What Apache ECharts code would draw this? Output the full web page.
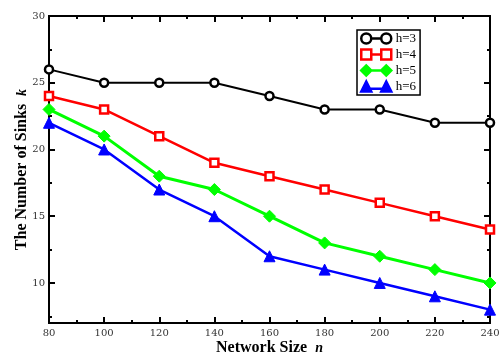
<!DOCTYPE html>
<html><head><meta charset="utf-8">
<script src="https://cdn.jsdelivr.net/npm/echarts@6/dist/echarts.min.js"></script>
<style>html,body{margin:0;padding:0;background:#fff}#c{width:500px;height:354px}</style>
</head><body><div id="c"></div>
<script>
const networkSize = [80, 100, 120, 140, 160, 180, 200, 220, 240];
const h3 = [26, 25, 25, 25, 24, 23, 23, 22, 22];
const h4 = [24, 23, 21, 19, 18, 17, 16, 15, 14];
const h5 = [23, 21, 18, 17, 15, 13, 12, 11, 10];
const h6 = [22, 20, 17, 15, 12, 11, 10, 9, 8];
const yMajor = [10, 15, 20, 25, 30];
const yMinor = [7.5, 12.5, 17.5, 22.5, 27.5];
const seriesNames = ['h=3', 'h=4', 'h=5', 'h=6'];

const font = '"Liberation Serif", "DejaVu Serif", serif';
const tickFont = '"DejaVu Serif", serif';
const pair = arr => networkSize.map((x, i) => [x, arr[i]]);

const icons = [
  'path://M0,5.5A5.5,5.5 0 1 1 11,5.5A5.5,5.5 0 1 1 0,5.5ZM11,5.5L22,5.5M22,5.5A5.5,5.5 0 1 1 33,5.5A5.5,5.5 0 1 1 22,5.5Z',
  'path://M0,0L11,0L11,11L0,11ZM11,5.5L22,5.5M22,0L33,0L33,11L22,11Z',
  'path://M0,5.5L5.5,0L11,5.5L5.5,11ZM11,5.5L22,5.5M22,5.5L27.5,0L33,5.5L27.5,11Z',
  'path://M0,11L5.5,0L11,11ZM8,8L25,8M22,11L27.5,0L33,11Z'
];

const chart = echarts.init(document.getElementById('c'));
const axisLine = {show: true, lineStyle: {color: '#000', width: 2}};
function yAx(opts) {
  return Object.assign({
    type: 'value', min: 7, max: 30,
    axisLine: axisLine, splitLine: {show: false},
    axisLabel: {show: false}
  }, opts);
}
chart.setOption({
  animation: false,
  grid: {left: 49, right: 10, top: 16, bottom: 31, containLabel: false, outerBoundsMode: 'none'},
  legend: {
    left: 357, top: 30, orient: 'vertical', itemGap: 3,
    itemWidth: 31, itemHeight: 10,
    padding: [2, 4, 2, 3],
    borderColor: '#000', borderWidth: 1.5, borderRadius: 0,
    textStyle: {fontFamily: font, fontSize: 13, lineHeight: 13, color: '#000', padding: [0, 0, 0, -1]},
    data: [
      {name: seriesNames[0], icon: icons[0], itemStyle: {color: '#fff', borderColor: '#000', borderWidth: 2.5}},
      {name: seriesNames[1], icon: icons[1], itemStyle: {color: '#fff', borderColor: '#ff0000', borderWidth: 2.5}},
      {name: seriesNames[2], icon: icons[2], itemStyle: {color: '#00ff00', borderColor: '#00ff00', borderWidth: 2.5}},
      {name: seriesNames[3], icon: icons[3], itemStyle: {color: '#0000ff', borderColor: '#0000ff', borderWidth: 2.5}}
    ]
  },
  xAxis: [{
    type: 'value', min: 80, max: 240, interval: 20,
    axisLine: axisLine, splitLine: {show: false},
    axisTick: {inside: true, length: 6, lineStyle: {width: 2, color: '#000'}},
    minorTick: {show: true, splitNumber: 2, length: 3, lineStyle: {width: 2, color: '#000'}},
    axisLabel: {fontFamily: tickFont, fontSize: 10, color: '#333', margin: 5},
    name: '{b|Network Size  }{i|n}', nameLocation: 'middle', nameGap: 17, nameMoveOverlap: false,
    nameTextStyle: {rich: {
      b: {fontFamily: font, fontSize: 16, fontWeight: 'bold', color: '#000'},
      i: {fontFamily: font, fontSize: 14, fontStyle: 'italic', fontWeight: 'bold', color: '#000'}
    }}
  }, {
    type: 'value', min: 80, max: 240, interval: 20, position: 'top',
    axisLine: axisLine, splitLine: {show: false},
    axisTick: {inside: true, length: 6, lineStyle: {width: 2, color: '#000'}},
    minorTick: {show: true, splitNumber: 2, length: 3, lineStyle: {width: 2, color: '#000'}},
    axisLabel: {show: false}
  }],
  yAxis: [
    yAx({
      position: 'left',
      axisTick: {inside: true, length: 6, customValues: yMajor, lineStyle: {width: 2, color: '#000'}},
      axisLabel: {show: true, customValues: yMajor, fontFamily: tickFont, fontSize: 10, color: '#333', margin: 4},
      name: '{b|The Number of Sinks  }{i|k}', nameLocation: 'middle', nameGap: 19, nameRotate: 90, nameMoveOverlap: false,
      nameTextStyle: {rich: {
        b: {fontFamily: font, fontSize: 16, fontWeight: 'bold', color: '#000'},
        i: {fontFamily: font, fontSize: 14, fontStyle: 'italic', fontWeight: 'bold', color: '#000'}
      }}
    }),
    yAx({position: 'left', axisTick: {inside: true, length: 3, customValues: yMinor, lineStyle: {width: 2, color: '#000'}}}),
    yAx({position: 'right', axisTick: {inside: true, length: 6, customValues: yMajor, lineStyle: {width: 2, color: '#000'}}}),
    yAx({position: 'right', axisTick: {inside: true, length: 3, customValues: yMinor, lineStyle: {width: 2, color: '#000'}}})
  ],
  series: [
    {name: seriesNames[0], type: 'line', data: pair(h3), symbol: 'circle', symbolSize: 8,
     lineStyle: {color: '#000', width: 2}, itemStyle: {color: '#fff', borderColor: '#000', borderWidth: 2.5}},
    {name: seriesNames[1], type: 'line', data: pair(h4), symbol: 'rect', symbolSize: 8,
     lineStyle: {color: '#ff0000', width: 2.5}, itemStyle: {color: '#fff', borderColor: '#ff0000', borderWidth: 2.5}},
    {name: seriesNames[2], type: 'line', data: pair(h5), symbol: 'diamond', symbolSize: 12,
     lineStyle: {color: '#00ff00', width: 3}, itemStyle: {color: '#00ff00', borderColor: '#00ff00'}},
    {name: seriesNames[3], type: 'line', data: pair(h6), symbol: 'triangle', symbolSize: 11,
     lineStyle: {color: '#0000ff', width: 2.5}, itemStyle: {color: '#0000ff', borderColor: '#0000ff'}}
  ]
});
</script>
</body></html>
